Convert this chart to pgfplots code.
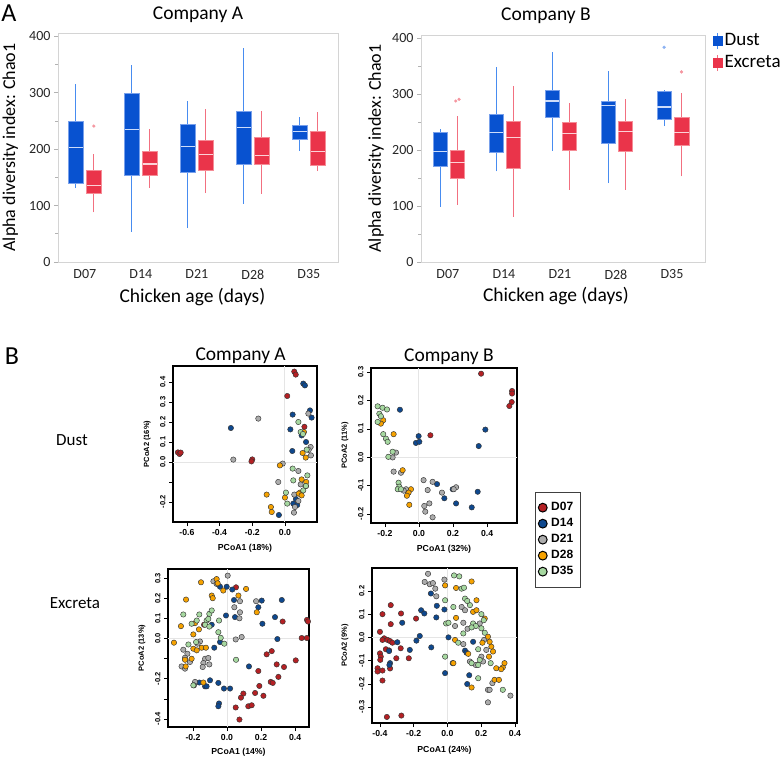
\documentclass[border=0pt]{standalone}
\usepackage{fontspec}
\setmainfont{Carlito}
\newfontfamily\rfont{Liberation Sans}
\usepackage{pgfplots}
\pgfplotsset{compat=1.18}

\definecolor{dustfill}{RGB}{8,82,208}
\definecolor{dustwhisk}{RGB}{72,140,240}
\definecolor{dustedge}{RGB}{120,160,235}
\definecolor{dustmed}{RGB}{205,220,250}
\definecolor{dustout}{RGB}{140,178,242}
\definecolor{excfill}{RGB}{234,52,74}
\definecolor{excwhisk}{RGB}{242,112,128}
\definecolor{excedge}{RGB}{245,140,150}
\definecolor{excmed}{RGB}{252,210,215}
\definecolor{excout}{RGB}{245,150,160}
\definecolor{c07}{RGB}{180,32,36}
\definecolor{c14}{RGB}{14,72,142}
\definecolor{c21}{RGB}{172,172,172}
\definecolor{c28}{RGB}{246,162,0}
\definecolor{c35}{RGB}{166,216,160}

\pgfplotsset{
  every axis title shift=0pt,
  boxaxis/.style={
    scale only axis, anchor=south west, ymin=0, ymax=406,
    xtick={0,1,2,3,4}, xticklabels={D07,D14,D21,D28,D35},
    ytick={0,100,200,300,400}, minor ytick={50,150,250,350},
    axis line style={draw=black!17, line width=0.9pt},
    tick style={black!30, line width=0.6pt}, xtick style={draw=none},
    major tick length=4pt, minor tick length=3pt, tick align=outside,
    ytick pos=left,
    tick label style={font=\fontsize{14}{14}\selectfont, text=black!85},
    /pgf/number format/assume math mode=true,
    title style={font=\fontsize{19.5}{20}\selectfont, anchor=base},
    xlabel style={font=\fontsize{19.5}{20}\selectfont, anchor=base},
    ylabel style={font=\fontsize{18}{18}\selectfont, anchor=base},
  },
  pcoa/.style={
    scale only axis, anchor=south west,
    axis line style={line width=1.5pt},
    tick style={black, line width=0.5pt}, tick align=outside, major tick length=4pt,
    xtick pos=bottom, ytick pos=left,
    xticklabel style={font=\rfont\bfseries\fontsize{8.7}{9}\selectfont},
    yticklabel style={font=\rfont\bfseries\fontsize{7.5}{8}\selectfont, rotate=90, anchor=south},
    xlabel style={font=\rfont\bfseries\fontsize{8.7}{9}\selectfont, anchor=center},
    ylabel style={font=\rfont\bfseries\fontsize{7.5}{8}\selectfont, anchor=center},
    title style={font=\fontsize{19.5}{20}\selectfont, anchor=base},
    extra x ticks={0}, extra y ticks={0},
    extra x tick labels={}, extra y tick labels={},
    extra tick style={grid=major, major grid style={black!10, line width=1pt}, major tick length=0pt},
  },
  g/.style={only marks, mark=*, mark size=2.7pt,
    mark options={draw=black!80, line width=0.45pt, fill=#1}},
  leg/.style={only marks, mark=*, mark size=4.4pt,
    mark options={draw=black, line width=1pt, fill=#1},
    legend image code/.code={\draw plot coordinates {(0pt,0pt)};}},
}

% box: #1 group (dust/exc), #2 position, #3 lower whisker, #4 lower quartile,
% #5 median, #6 upper quartile, #7 upper whisker, #8 outliers (x,y)
\newcommand{\bx}[8]{%
  \pgfmathsetmacro\xl{#2-0.13}\pgfmathsetmacro\xr{#2+0.13}%
  \addplot[#1whisk, line width=1.1pt] coordinates {(#2,#3) (#2,#4)};
  \addplot[#1whisk, line width=1.1pt] coordinates {(#2,#6) (#2,#7)};
  \addplot[fill=#1fill, draw=#1edge, line width=0.5pt]
    coordinates {(\xl,#4) (\xr,#4) (\xr,#6) (\xl,#6)} -- cycle;
  \addplot[#1med, line width=1.3pt] coordinates {(\xl,#5) (\xr,#5)};
  \addplot[#1out, only marks, mark=*, mark size=1.4pt, mark options={draw=none, fill=#1out}]
    coordinates {#8};
}

\begin{document}
\begin{tikzpicture}
\useasboundingbox (0pt,0pt) rectangle (784pt,758pt);

\node[font=\fontsize{26}{26}\selectfont] at (9pt,745pt) {A};
\node[font=\fontsize{26}{26}\selectfont] at (12pt,402pt) {B};
\node[font=\fontsize{17}{17}\selectfont] at (72pt,318pt) {Dust};
\node[font=\fontsize{17}{17}\selectfont] at (75pt,155pt) {Excreta};

% ---- Company A boxplots
\begin{axis}[boxaxis, at={(58pt,496pt)}, width=280pt, height=229pt,
  xmin=-0.48, xmax=4.52,
  title={Company A}, title style={at={(axis description cs:0.5,1.057)}},
  xlabel={Chicken age (days)}, xlabel style={at={(axis description cs:0.48,-0.175)}},
  ylabel={Alpha diversity index: Chao1},
  ylabel style={at={(axis description cs:-0.153,0.5)}}]
\bx{dust}{-0.16}{131}{140}{203}{250}{315}{}
\bx{exc}{0.16}{88}{121}{135}{163}{191}{(0.16,241)}
\bx{dust}{0.84}{54}{153}{235}{300}{350}{}
\bx{exc}{1.16}{132}{153}{174}{196}{235}{}
\bx{dust}{1.84}{60}{159}{205}{245}{286}{}
\bx{exc}{2.16}{122}{163}{191}{216}{272}{}
\bx{dust}{2.84}{103}{174}{239}{268}{380}{}
\bx{exc}{3.16}{121}{174}{189}{222}{268}{}
\bx{dust}{3.84}{197}{217}{231}{242}{257}{}
\bx{exc}{4.16}{161}{172}{196}{231}{266}{}
\end{axis}

% ---- Company B boxplots
\begin{axis}[boxaxis, at={(421pt,496pt)}, width=284pt, height=227pt,
  xmin=-0.48, xmax=4.59,
  title={Company B}, title style={at={(axis description cs:0.44,1.062)}},
  xlabel={Chicken age (days)}, xlabel style={at={(axis description cs:0.475,-0.176)}},
  ylabel={Alpha diversity index: Chao1},
  ylabel style={at={(axis description cs:-0.141,0.5)}},
  legend style={at={(axis description cs:1,1)}, anchor=north west, xshift=8pt, yshift=5pt,
    draw=none, fill=none, inner sep=0pt, row sep=0pt,
    font=\fontsize{19}{19}\selectfont,
    nodes={inner ysep=2.5pt, text height=13pt, text depth=4pt}},
  legend cell align=left]
\addlegendimage{legend image code/.code={
  \draw[dustwhisk, line width=1pt] (0pt,-8pt) -- (0pt,8pt);
  \fill[dustfill] (-4.5pt,-4.5pt) rectangle (4.5pt,4.5pt);}}
\addlegendentry{Dust}
\addlegendimage{legend image code/.code={
  \draw[excwhisk, line width=1pt] (0pt,-8pt) -- (0pt,8pt);
  \fill[excfill] (-4.5pt,-4.5pt) rectangle (4.5pt,4.5pt);}}
\addlegendentry{Excreta}
\bx{dust}{-0.14}{99}{172}{198}{232}{238}{}
\bx{exc}{0.17}{102}{149}{178}{199}{261}{(0.14,288) (0.2,291)}
\bx{dust}{0.86}{162}{196}{231}{265}{349}{}
\bx{exc}{1.17}{81}{168}{223}{252}{314}{}
\bx{dust}{1.86}{199}{259}{288}{308}{375}{}
\bx{exc}{2.17}{129}{199}{230}{250}{285}{}
\bx{dust}{2.86}{141}{213}{280}{288}{342}{}
\bx{exc}{3.17}{129}{198}{234}{252}{292}{}
\bx{dust}{3.86}{243}{255}{277}{305}{307}{(3.86,384)}
\bx{exc}{4.17}{153}{208}{231}{259}{303}{(4.17,340)}
\end{axis}

% ---- Dust, Company A
\begin{axis}[pcoa, at={(173pt,236pt)}, width=144pt, height=156pt,
  xmin=-0.685, xmax=0.196, ymin=-0.30, ymax=0.48,
  xtick={-0.6,-0.4,-0.2,0}, xticklabels={-0.6,-0.4,-0.2,0.0},
  ytick={-0.2,-0.1,0,0.1,0.2,0.3,0.4}, yticklabels={-0.2,,0.0,0.1,0.2,0.3,0.4},
  xlabel={PCoA1 (18\%)}, xlabel style={at={(axis description cs:0.5,-0.167)}},
  ylabel={PCoA2 (16\%)}, ylabel style={at={(axis description cs:-0.18,0.5)}},
  title={Company A}, title style={at={(axis description cs:0.47,1.038)}}]
\addplot[g=c07] coordinates {(-0.655,0.048) (-0.645,0.040) (-0.638,0.047) (-0.200,0.013) (-0.205,0.003) (0.057,0.452) (0.066,0.437) (0.014,0.330) (0.119,0.176)};
\addplot[g=c14] coordinates {(0.112,0.392) (0.122,0.383) (0.153,0.258) (0.163,0.222) (0.047,0.237) (-0.331,0.170) (0.033,0.163) (0.102,0.133) (0.129,0.100) (0.045,0.055) (0.051,-0.208) (0.067,-0.185) (-0.037,-0.265) (0.075,-0.215)};
\addplot[g=c21] coordinates {(0.143,0.242) (-0.163,0.217) (0.157,0.075) (0.159,0.033) (-0.316,0.012) (-0.014,-0.008) (0.082,-0.045) (-0.041,-0.100) (0.096,-0.112) (0.057,-0.163) (0.082,-0.195) (0.061,-0.225) (0.055,-0.253) (0.145,0.060)};
\addplot[g=c28] coordinates {(0.116,0.150) (0.108,0.045) (0.127,0.022) (-0.031,-0.017) (0.102,-0.087) (0.129,-0.120) (0.092,-0.153) (-0.112,-0.163) (0.084,-0.158) (0.102,-0.167) (0.000,-0.178) (-0.086,-0.225) (-0.081,-0.250) (0.130,-0.100)};
\addplot[g=c35] coordinates {(0.082,0.200) (0.096,0.150) (0.133,0.062) (0.047,-0.033) (0.137,-0.067) (0.051,-0.092) (0.112,-0.142) (0.006,-0.153) (0.014,-0.208) (0.128,-0.120) (0.110,0.140)};
\end{axis}

% ---- Dust, Company B
\begin{axis}[pcoa, at={(371pt,235pt)}, width=146pt, height=155pt,
  xmin=-0.282, xmax=0.576, ymin=-0.232, ymax=0.314,
  xtick={-0.2,0,0.2,0.4}, xticklabels={-0.2,0.0,0.2,0.4},
  ytick={-0.2,-0.1,0,0.1,0.2,0.3}, yticklabels={-0.2,-0.1,0.0,0.1,0.2,0.3},
  xlabel={PCoA1 (32\%)}, xlabel style={at={(axis description cs:0.5,-0.168)}},
  ylabel={PCoA2 (11\%)}, ylabel style={at={(axis description cs:-0.178,0.5)}},
  title={Company B}, title style={at={(axis description cs:0.534,1.045)}},
  legend style={at={(axis description cs:1.123,0.2)}, anchor=north west,
    draw=black!75, line width=0.8pt, inner xsep=3pt, inner ysep=8pt, row sep=1.5pt,
    font=\rfont\bfseries\fontsize{12}{12}\selectfont,
    nodes={inner xsep=4pt, inner ysep=1.5pt, text height=9pt, text depth=2.5pt}},
  legend cell align=left]
\addlegendimage{leg=c07}
\addlegendentry{D07}
\addlegendimage{leg=c14}
\addlegendentry{D14}
\addlegendimage{leg=c21}
\addlegendentry{D21}
\addlegendimage{leg=c28}
\addlegendentry{D28}
\addlegendimage{leg=c35}
\addlegendentry{D35}
\addplot[g=c07] coordinates {(0.365,0.294) (0.547,0.233) (0.547,0.224) (0.545,0.194) (0.531,0.180) (0.067,0.077)};
\addplot[g=c14] coordinates {(-0.112,0.167) (-0.002,0.074) (-0.018,0.050) (0.002,0.054) (0.390,0.097) (0.351,0.039) (0.106,-0.095) (0.149,-0.145) (0.198,-0.113) (0.345,-0.122) (0.218,-0.163) (0.310,-0.177)};
\addplot[g=c21] coordinates {(-0.135,0.016) (-0.155,-0.001) (-0.149,-0.051) (-0.106,-0.055) (-0.076,-0.113) (-0.090,-0.118) (0.027,-0.081) (0.051,-0.116) (0.080,-0.087) (0.135,-0.125) (0.218,-0.106) (0.204,-0.113) (0.061,-0.163) (0.031,-0.172) (0.080,-0.212) (0.037,-0.192)};
\addplot[g=c28] coordinates {(-0.210,0.130) (-0.224,0.118) (-0.149,0.081) (-0.096,-0.046) (-0.047,-0.113) (-0.061,-0.125) (-0.071,-0.136) (-0.057,-0.168)};
\addplot[g=c35] coordinates {(-0.243,0.179) (-0.214,0.174) (-0.188,0.168) (-0.233,0.153) (-0.224,0.144) (-0.243,0.124) (-0.210,0.081) (-0.194,0.065) (-0.184,0.054) (-0.155,0.019) (-0.180,0.001) (-0.120,-0.090) (-0.116,-0.104) (-0.125,-0.113) (-0.106,-0.113)};
\end{axis}

% ---- Excreta, Company A
\begin{axis}[pcoa, at={(168pt,31pt)}, width=141pt, height=158pt,
  xmin=-0.347, xmax=0.482, ymin=-0.44, ymax=0.345,
  xtick={-0.2,0,0.2,0.4}, xticklabels={-0.2,0.0,0.2,0.4},
  ytick={-0.4,-0.3,-0.2,-0.1,0,0.1,0.2,0.3}, yticklabels={-0.4,,-0.2,,0.0,0.1,0.2,0.3},
  xlabel={PCoA1 (14\%)}, xlabel style={at={(axis description cs:0.5,-0.158)}},
  ylabel={PCoA2 (13\%)}, ylabel style={at={(axis description cs:-0.184,0.5)}}]
\addplot[g=c07] coordinates {(0.053,0.254) (-0.135,0.068) (0.327,0.084) (0.484,0.097) (0.470,0.092) (0.476,0.084) (0.439,0.002) (0.469,0.002) (0.263,-0.063) (0.233,-0.079) (0.404,-0.109) (0.292,-0.129) (0.335,-0.142) (0.184,-0.162) (0.302,-0.191) (0.257,-0.216) (0.269,-0.221) (0.190,-0.236) (0.165,-0.271) (0.214,-0.285) (0.096,-0.274) (0.082,-0.294) (0.125,-0.337) (0.145,-0.332) (0.051,-0.343) (0.073,-0.403)};
\addplot[g=c14] coordinates {(-0.041,0.257) (-0.002,0.257) (0.031,0.243) (0.041,0.191) (0.204,0.188) (0.322,0.191) (0.184,0.155) (-0.006,0.114) (0.047,0.106) (0.282,0.106) (0.208,0.073) (-0.090,0.068) (-0.041,-0.018) (-0.075,-0.046) (0.296,-0.003) (0.129,-0.139) (-0.100,-0.208) (-0.163,-0.219) (-0.129,-0.238) (-0.120,-0.238) (-0.051,-0.221) (-0.018,-0.249) (0.018,-0.249) (-0.047,-0.323) (-0.051,-0.337)};
\addplot[g=c21] coordinates {(0.004,0.312) (-0.080,0.284) (-0.061,0.271) (0.076,0.185) (0.171,0.185) (0.043,0.155) (0.076,0.130) (0.073,0.100) (0.051,-0.005) (0.086,0.007) (-0.159,-0.015) (-0.173,-0.026) (-0.257,-0.056) (-0.233,-0.076) (-0.247,-0.096) (-0.267,-0.139) (-0.247,-0.150) (-0.218,-0.117) (-0.129,-0.101) (-0.110,-0.097) (-0.139,-0.122) (-0.104,-0.129) (-0.143,-0.142) (-0.188,-0.216) (-0.194,-0.233)};
\addplot[g=c28] coordinates {(-0.153,0.279) (-0.061,0.295) (-0.055,0.274) (-0.022,0.238) (0.112,0.246) (0.067,0.213) (-0.090,0.213) (-0.084,0.200) (-0.241,0.193) (0.175,0.130) (-0.188,0.076) (-0.271,0.061) (-0.165,0.045) (-0.198,0.020) (-0.312,-0.021) (-0.198,-0.051) (-0.178,-0.059) (-0.149,-0.046) (-0.124,-0.046) (-0.208,-0.101) (-0.247,-0.106) (-0.243,-0.139) (-0.139,-0.219)};
\addplot[g=c35] coordinates {(-0.257,0.119) (-0.163,0.119) (-0.104,0.122) (-0.090,0.139) (-0.120,0.089) (-0.110,0.097) (-0.178,0.089) (-0.208,0.073) (-0.047,0.089) (-0.129,0.068) (-0.104,0.059) (-0.051,0.031) (-0.037,0.003) (-0.016,-0.026) (-0.227,-0.030) (-0.182,-0.018) (0.053,-0.106) (-0.198,-0.233)};
\end{axis}

% ---- Excreta, Company B
\begin{axis}[pcoa, at={(372pt,35pt)}, width=145pt, height=155pt,
  xmin=-0.447, xmax=0.412, ymin=-0.369, ymax=0.299,
  xtick={-0.4,-0.2,0,0.2,0.4}, xticklabels={-0.4,-0.2,0.0,0.2,0.4},
  ytick={-0.3,-0.2,-0.1,0,0.1,0.2}, yticklabels={-0.3,-0.2,-0.1,0.0,0.1,0.2},
  xlabel={PCoA1 (24\%)}, xlabel style={at={(axis description cs:0.5,-0.174)}},
  ylabel={PCoA2 (9\%)}, ylabel style={at={(axis description cs:-0.186,0.5)}}]
\addplot[g=c07] coordinates {(-0.359,-0.343) (-0.273,-0.337) (-0.336,0.139) (-0.385,0.100) (-0.275,0.103) (-0.336,0.057) (-0.400,0.024) (-0.186,0.081) (-0.375,-0.004) (-0.385,-0.011) (-0.355,-0.011) (-0.340,-0.016) (-0.326,-0.023) (-0.365,-0.051) (-0.346,-0.056) (-0.400,-0.069) (-0.395,-0.083) (-0.277,-0.047) (-0.303,-0.090) (-0.229,-0.090) (-0.340,-0.134) (-0.414,-0.133) (-0.414,-0.147) (-0.385,-0.143) (-0.385,-0.186) (-0.398,-0.097)};
\addplot[g=c14] coordinates {(-0.268,0.063) (-0.297,-0.021) (-0.346,-0.059) (-0.340,-0.111) (-0.344,-0.119) (-0.223,-0.054) (-0.184,-0.014) (-0.164,0.006) (-0.156,0.117) (-0.137,0.103) (-0.098,0.189) (-0.063,0.136) (-0.066,0.086) (-0.018,0.120) (-0.096,-0.043) (0.006,0.000) (-0.014,-0.154) (0.031,-0.111) (0.104,-0.057) (0.113,-0.066) (0.129,-0.163) (0.117,-0.201) (0.152,-0.019)};
\addplot[g=c21] coordinates {(-0.115,0.274) (-0.135,0.239) (-0.105,0.229) (-0.086,0.234) (-0.072,0.210) (-0.066,0.177) (-0.018,0.249) (0.045,0.049) (0.084,0.131) (0.104,0.117) (0.094,0.063) (0.119,0.037) (0.094,-0.029) (0.133,-0.104) (0.168,-0.119) (0.201,-0.083) (0.211,-0.104) (0.240,-0.226) (0.250,-0.226) (0.266,-0.197) (0.240,-0.280) (0.373,-0.251) (0.191,0.060) (0.217,-0.011) (0.230,-0.054)};
\addplot[g=c28] coordinates {(-0.014,0.224) (0.051,0.213) (0.143,0.241) (0.051,0.084) (0.045,-0.011) (0.035,-0.111) (0.123,-0.071) (0.143,-0.216) (0.152,0.110) (0.172,0.117) (0.221,0.081) (0.240,0.003) (0.250,-0.019) (0.207,-0.023) (0.260,-0.040) (0.270,-0.061) (0.246,-0.083) (0.289,-0.133) (0.328,-0.129) (0.318,-0.137) (0.338,-0.111) (0.279,-0.183) (0.305,-0.183) (0.172,0.160)};
\addplot[g=c35] coordinates {(0.039,0.267) (0.070,0.263) (0.084,0.210) (0.098,0.214) (0.104,0.167) (0.035,0.131) (-0.014,0.160) (-0.008,0.060) (0.006,0.063) (0.152,0.060) (0.168,0.049) (0.143,0.043) (0.064,-0.023) (-0.014,-0.083) (0.191,-0.097) (0.182,-0.119) (0.256,-0.111) (0.221,0.020) (0.201,0.100) (0.215,0.074) (0.133,0.139) (0.117,0.157) (0.182,-0.176) (0.328,-0.226) (0.094,0.017) (0.143,-0.111) (0.182,-0.051) (0.201,0.039)};
\end{axis}
\end{tikzpicture}
\end{document}
